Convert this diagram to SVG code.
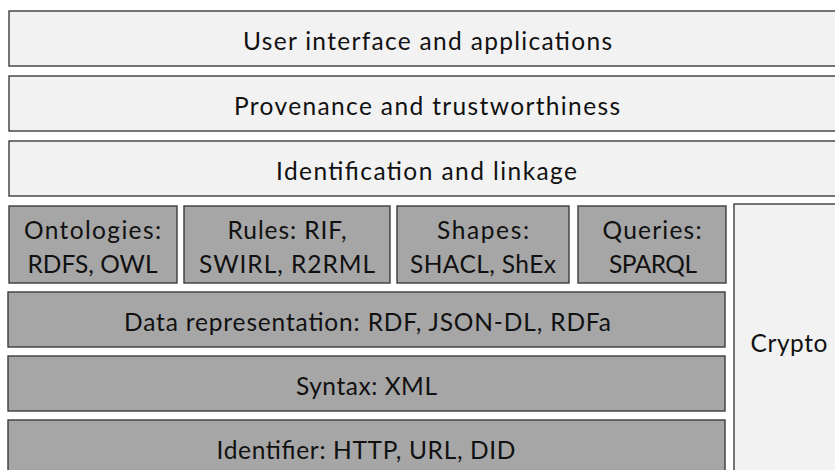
<svg xmlns="http://www.w3.org/2000/svg" width="835" height="470" viewBox="0 0 835 470">
<style>
.light{fill:#f2f2f2;stroke:#3c3c3c;stroke-width:1.4}
.dark{fill:#a6a6a6;stroke:#3c3c3c;stroke-width:1.4}
text{font-family:Lato,"Open Sans","Liberation Sans",sans-serif;font-size:24.5px;fill:#111;text-anchor:middle}
</style>
<rect width="835" height="470" fill="#ffffff"/>
<g id="ui"><rect class="light" x="9" y="11" width="837" height="55"/><text x="427.5" y="49.5" textLength="369" lengthAdjust="spacing">User interface and applications</text></g>
<g id="provenance"><rect class="light" x="9" y="76" width="837" height="55"/><text x="427" y="114.5" textLength="386" lengthAdjust="spacing">Provenance and trustworthiness</text></g>
<g id="identification"><rect class="light" x="9" y="141" width="837" height="55"/><text x="426.5" y="179.5" textLength="301" lengthAdjust="spacing">Identification and linkage</text></g>
<g id="ontologies"><rect class="dark" x="9" y="206" width="168" height="77"/><text x="92.5" y="239" textLength="137" lengthAdjust="spacing">Ontologies:</text><text x="92.5" y="273" textLength="130" lengthAdjust="spacing">RDFS, OWL</text></g>
<g id="rules"><rect class="dark" x="184" y="206" width="206" height="77"/><text x="287" y="239" textLength="119" lengthAdjust="spacing">Rules: RIF,</text><text x="287" y="273" textLength="176" lengthAdjust="spacing">SWIRL, R2RML</text></g>
<g id="shapes"><rect class="dark" x="397" y="206" width="172" height="77"/><text x="483" y="239" textLength="92" lengthAdjust="spacing">Shapes:</text><text x="483" y="273" textLength="146" lengthAdjust="spacing">SHACL, ShEx</text></g>
<g id="queries"><rect class="dark" x="578" y="206" width="148" height="77"/><text x="652" y="239" textLength="99" lengthAdjust="spacing">Queries:</text><text x="653" y="273" textLength="88" lengthAdjust="spacing">SPARQL</text></g>
<g id="datarep"><rect class="dark" x="8" y="292" width="717" height="55"/><text x="367.5" y="331" textLength="487" lengthAdjust="spacing">Data representation: RDF, JSON-DL, RDFa</text></g>
<g id="syntax"><rect class="dark" x="8" y="356" width="717" height="55"/><text x="366.5" y="395" textLength="141" lengthAdjust="spacing">Syntax: XML</text></g>
<g id="identifier"><rect class="dark" x="8" y="420" width="717" height="60"/><text x="366" y="458.5" textLength="299" lengthAdjust="spacing">Identifier: HTTP, URL, DID</text></g>
<g id="crypto"><rect class="light" x="734" y="204" width="112" height="280"/><text x="789" y="352" textLength="77" lengthAdjust="spacing">Crypto</text></g>
<g id="connectors"></g>
</svg>
